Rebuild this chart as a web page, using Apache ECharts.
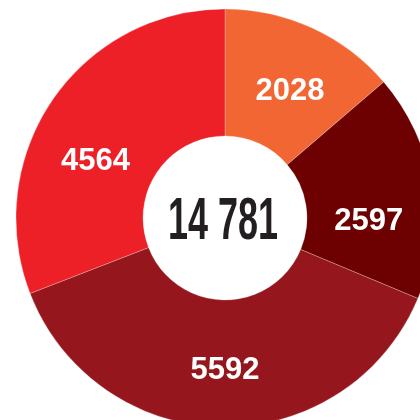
<!DOCTYPE html>
<html>
<head>
<meta charset="utf-8">
<script src="https://cdn.jsdelivr.net/npm/echarts@6/dist/echarts.min.js"></script>
<style>
  html, body { margin: 0; padding: 0; background: #fff; }
  #main { width: 420px; height: 420px; }
</style>
</head>
<body>
<div id="main"></div>
<script>
// 各扇区数值（顺时针，从正上方开始）
var sliceNames = ['A', 'B', 'C', 'D'];
var sliceValues = [2028, 2597, 5592, 4564];
var sliceColors = ['#F16633', '#6D0000', '#95161C', '#ED1F27'];

var total = sliceValues.reduce(function (a, b) { return a + b; }, 0);
// 千位用空格分隔
var totalText = String(total).replace(/\B(?=(\d{3})+(?!\d))/g, ' ');

// 标签微调（原图标签并不完全在扇区中线上）
var labelNudge = [[3, 8], [-3, 27], [2, 4], [-7, 27]];
var fontStack = '"Liberation Sans", Arial, sans-serif';

var myChart = echarts.init(document.getElementById('main'));
var option = {
    animation: false,
    series: [{
        type: 'pie',
        center: [225, 218],
        radius: [82, 209],
        startAngle: 90,
        clockwise: true,
        avoidLabelOverlap: false,
        itemStyle: {
            borderColor: 'rgba(255,255,255,0.5)',
            borderWidth: 0.5
        },
        label: {
            show: true,
            position: 'inside',
            color: '#fff',
            fontFamily: fontStack,
            fontWeight: 'bold',
            fontSize: 31,
            formatter: '{c}'
        },
        labelLine: { show: false },
        labelLayout: function (params) {
            var n = labelNudge[params.dataIndex];
            return { dx: n[0], dy: n[1] };
        },
        data: sliceValues.map(function (v, i) {
            return { name: sliceNames[i], value: v, itemStyle: { color: sliceColors[i] } };
        })
    }],
    graphic: [{
        type: 'text',
        x: 223,
        y: 222,
        scaleX: 0.6,
        style: {
            text: totalText,
            fill: '#231F20',
            font: 'bold 60px ' + fontStack,
            align: 'center',
            verticalAlign: 'middle'
        }
    }]
};
myChart.setOption(option, true);
window.addEventListener('resize', function () {
    myChart.resize();
});
</script>
</body>
</html>
